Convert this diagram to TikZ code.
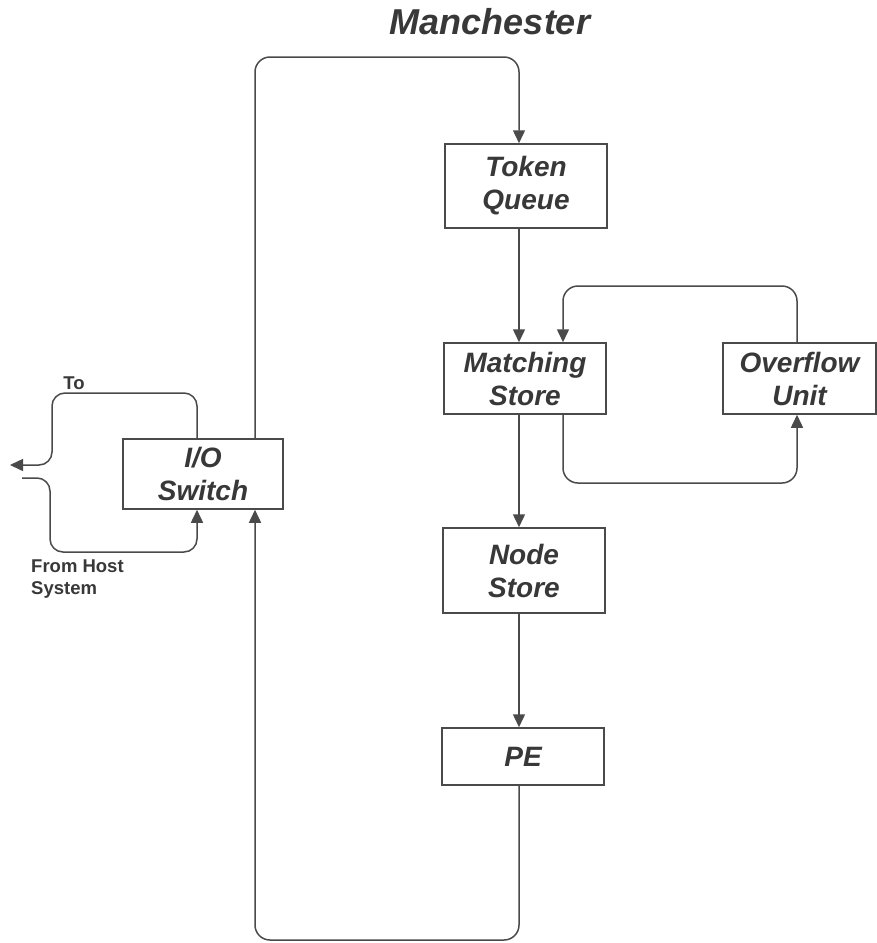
\documentclass[tikz,border=0pt]{standalone}
\usepackage{fontspec}
\setmainfont{Liberation Sans}
\usetikzlibrary{arrows.meta}
\definecolor{ink}{HTML}{383838}
\definecolor{wire}{HTML}{4A4A4A}
\begin{document}
\begin{tikzpicture}[x=1pt,y=-1pt,
  box/.style={draw=wire, line width=1.5pt, fill=white, align=center,
    font=\fontsize{28}{33}\selectfont\bfseries\itshape, text=ink, inner sep=0pt},
  flow/.style={draw=wire, line width=1.5pt, rounded corners=15pt,
    -{Triangle[length=13pt,width=12pt]}},
  lbl/.style={font=\fontsize{18.5}{22}\selectfont\bfseries, text=ink, align=left, inner sep=0pt}]
\useasboundingbox[fill=white] (0,0) rectangle (877,943);

\node[font=\fontsize{36}{40}\selectfont\bfseries\itshape, text=ink] (title) at (490,22) {Manchester};

\node[box, minimum width=162pt, minimum height=84pt] (tq) at (526,186) {Token\\Queue};
\node[box, minimum width=162pt, minimum height=71pt] (ms) at (525,378.5) {Matching\\Store};
\node[box, minimum width=162pt, minimum height=85pt] (ns) at (524,570.5) {Node\\Store};
\node[box, minimum width=162pt, minimum height=57pt] (pe) at (523,756.5) {PE};
\node[box, minimum width=153pt, minimum height=71pt] (ou) at (799.5,378.5) {Overflow\\Unit};
\node[box, minimum width=160pt, minimum height=70pt] (io) at (203,474) {I/O\\Switch};

\coordinate (xL) at (255,0);
\coordinate (xM) at (519,0);
\coordinate (xS) at (563,0);
\coordinate (xO) at (797,0);
\coordinate (yT) at (0,57);
\coordinate (yB) at (0,940);
\coordinate (yOT) at (0,286);
\coordinate (yOB) at (0,483);
\coordinate (xA) at (197,0);
\coordinate (xC) at (52,0);
\coordinate (xD) at (50,0);
\coordinate (yTo) at (0,393);
\coordinate (yIn) at (0,552);
\coordinate (outTip) at (10,465);
\coordinate (inStart) at (22,478);

\draw[flow] (io.north -| xL) -- (xL |- yT) -- (xM |- yT) -- (tq.north -| xM);
\draw[flow] (tq.south -| xM) -- (ms.north -| xM);
\draw[flow] (ms.south -| xM) -- (ns.north -| xM);
\draw[flow] (ns.south -| xM) -- (pe.north -| xM);
\draw[flow] (pe.south -| xM) -- (xM |- yB) -- (xL |- yB) -- (io.south -| xL);
\draw[flow] (ms.south -| xS) -- (xS |- yOB) -- (xO |- yOB) -- (ou.south -| xO);
\draw[flow] (ou.north -| xO) -- (xO |- yOT) -- (xS |- yOT) -- (ms.north -| xS);
\draw[flow, rounded corners=13pt] (io.north -| xA) -- (xA |- yTo) -- (xC |- yTo) -- (xC |- outTip) -- (outTip);
\draw[flow, rounded corners=13pt] (inStart) -- (xD |- inStart) -- (xD |- yIn) -- (xA |- yIn) -- (io.south -| xA);

\node[lbl] (to) at (74,383) {To};
\node[lbl, anchor=west] (host) at (31,579) {From Host\\System};
\end{tikzpicture}
\end{document}
